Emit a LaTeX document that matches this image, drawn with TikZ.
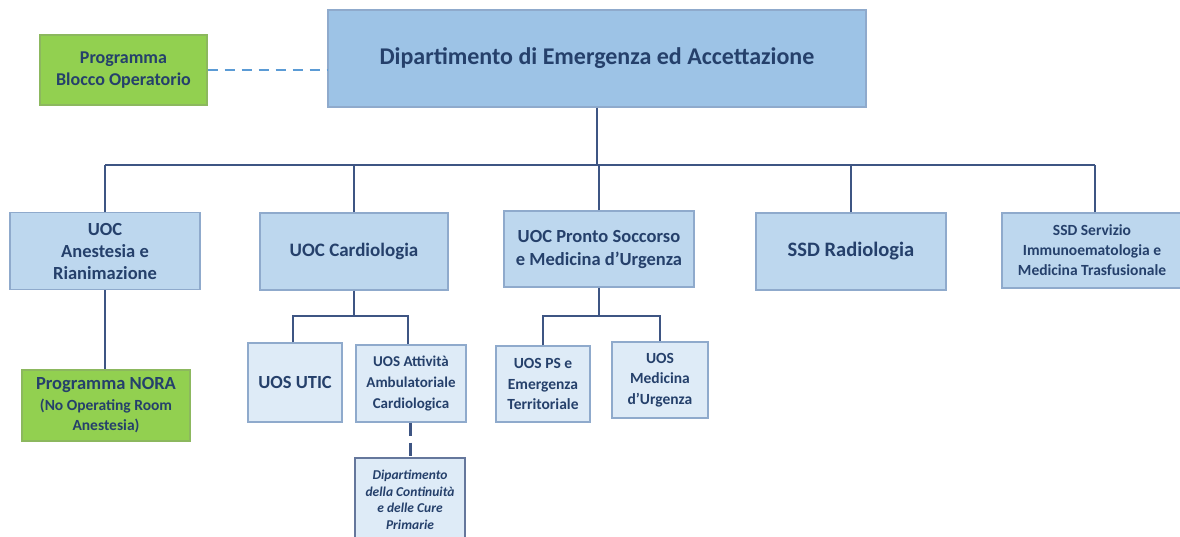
\documentclass[tikz,border=0pt]{standalone}
\usepackage{fontspec}
\setmainfont{Carlito}
\usetikzlibrary{positioning,calc}
\definecolor{deablue}{HTML}{9DC3E6}
\definecolor{uocblue}{HTML}{BDD7EE}
\definecolor{uosblue}{HTML}{DEEBF7}
\definecolor{progreen}{HTML}{92D050}
\definecolor{boxline}{HTML}{8FAACC}
\definecolor{linknavy}{HTML}{3E5583}
\definecolor{textnavy}{HTML}{25406B}
\definecolor{dashblue}{HTML}{5B9BD5}
\tikzset{
unit/.style={
  draw=boxline, line width=1.2pt, rectangle,
  align=center, text=textnavy, font=\bfseries,
  inner sep=2pt
},
dea/.style={unit, fill=deablue, minimum width=538, minimum height=97},
uoc/.style={unit, fill=uocblue, minimum width=190, minimum height=77},
uos/.style={unit, fill=uosblue, minimum height=77},
prog/.style={unit, fill=progreen, draw=progreen!70!gray},
link/.style={draw=linknavy, line width=2.2pt},
}

\begin{document}
\begin{tikzpicture}[x=1pt,y=-1pt]
\useasboundingbox (0,0) rectangle (1180,536);
% vertice
\node[dea, font=\fontsize{24}{26}\selectfont\bfseries] (dip) at (597,58.5) {Dipartimento di Emergenza ed Accettazione};
\node[prog, minimum width=167, minimum height=70, font=\fontsize{18}{22}\selectfont\bfseries] (blocco) at (123.5,70) {Programma\\Blocco Operatorio};
% unita' operative
\node[uoc, font=\fontsize{18.5}{22}\selectfont\bfseries] (anest) at (105,251) {UOC\\Anestesia e\\Rianimazione};
\node[uoc, minimum width=188, font=\fontsize{19}{22}\selectfont\bfseries] (cardio) at (354,251.5) {UOC Cardiologia};
\node[uoc, minimum height=76, font=\fontsize{18.5}{23}\selectfont\bfseries] (ps) at (599,249) {UOC Pronto Soccorso\\e Medicina d’Urgenza};
\node[uoc, font=\fontsize{20.5}{24}\selectfont\bfseries] (radio) at (851,251.5) {SSD Radiologia};
\node[uoc, minimum width=180, minimum height=75, font=\fontsize{15.5}{20}\selectfont\bfseries] (trasf) at (1092,250.5) {SSD Servizio\\Immunoematologia e\\Medicina Trasfusionale};
% livello inferiore
\node[prog, minimum width=168, minimum height=71, font=\fontsize{15.5}{20.5}\selectfont\bfseries] (nora) at (106,405.5) {{\fontsize{18.5}{21}\selectfont Programma NORA}\\(No Operating Room\\Anestesia)};
\node[uos, minimum width=94, minimum height=79, font=\fontsize{18.5}{22}\selectfont\bfseries] (utic) at (295,382.5) {UOS UTIC};
\node[uos, minimum width=110, font=\fontsize{15}{21}\selectfont\bfseries] (amb) at (411,383.5) {UOS Attività\\Ambulatoriale\\Cardiologica};
\node[uos, minimum width=110, minimum height=84, draw=linknavy!80, line width=1.8pt, anchor=north, font=\fontsize{13.5}{16.5}\selectfont\bfseries\itshape] (cure) at (410,457) {Dipartimento\\della Continuità\\e delle Cure\\Primarie};
\node[uos, minimum width=94, minimum height=76, font=\fontsize{15.5}{20.5}\selectfont\bfseries] (psterr) at (543,384) {UOS PS e\\Emergenza\\Territoriale};
\node[uos, minimum width=96, minimum height=76, font=\fontsize{15.5}{20.5}\selectfont\bfseries] (medurg) at (660,380) {UOS\\Medicina\\d’Urgenza};
% collegamenti
\coordinate (bus) at (0,165);
\coordinate (cbus) at (0,316);
\draw[dashblue, line width=2pt, dash pattern=on 10pt off 7pt] (blocco.east) -- (dip.west |- blocco.east);
\draw[link] (dip.south) -- (dip.south |- bus);
\draw[link] (anest.north |- bus) -- ([xshift=3]trasf.north |- bus);
\foreach \u in {anest,cardio,ps,radio}
  \draw[link] (\u.north) -- (\u.north |- bus);
\draw[link] ([xshift=3]trasf.north) -- ([xshift=3]trasf.north |- bus);
\draw[link] (anest.south) -- (nora.north -| anest.south);
\draw[link] (cardio.south) -- (cardio.south |- cbus);
\draw[link] ([xshift=-2]utic.north) |- ($(cardio.south |- cbus)$) -| ([xshift=-3]amb.north);
\draw[link] (ps.south) -- (ps.south |- cbus);
\draw[link] (psterr.north) |- ($(ps.south |- cbus)$) -| (medurg.north);
\draw[draw=linknavy, line width=3pt, dash pattern=on 13pt off 7pt] ([xshift=-1]amb.south) -- ([xshift=-1]amb.south |- cure.north);
\end{tikzpicture}
\end{document}
